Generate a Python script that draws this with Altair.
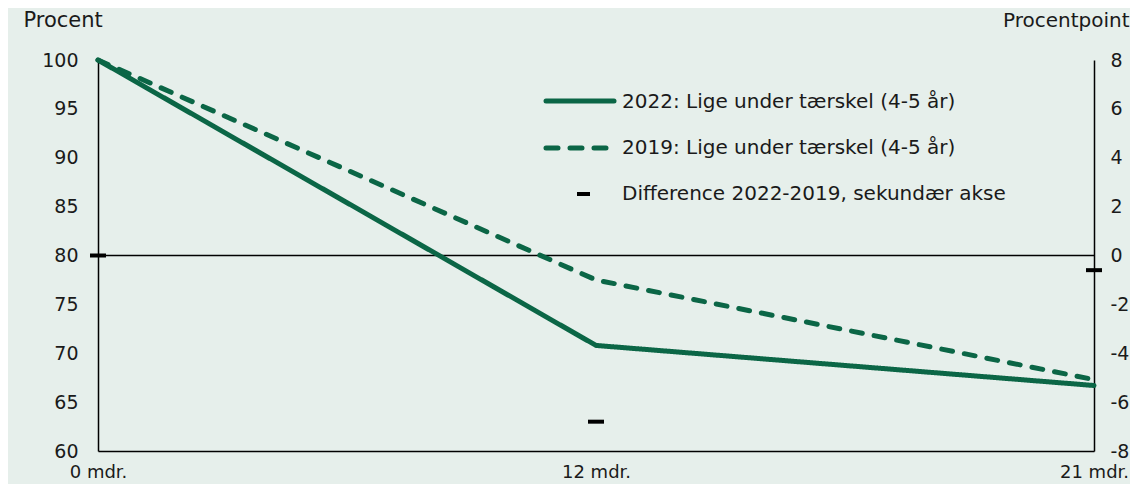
import altair as alt
import pandas as pd

months = ["0 mdr.", "12 mdr.", "21 mdr."]
y2022 = [100.0, 70.8, 66.7]
y2019 = [100.0, 77.5, 67.3]
diff = [0.0, -6.8, -0.6]
series_names = ["2022: Lige under tærskel (4-5 år)", "2019: Lige under tærskel (4-5 år)"]
diff_name = "Difference 2022-2019, sekundær akse"

GREEN = "#0B6646"
BG = "#E6EFEB"
FONT = "DejaVu Sans"
TXT = "#1a1a1a"

lines_df = pd.DataFrame({
    "m": months * 2,
    "v": y2022 + y2019,
    "s": [series_names[0]] * 3 + [series_names[1]] * 3,
})
diff_df = pd.DataFrame({"m": months, "d": diff})
ref_df = pd.DataFrame({"v": [80]})

xenc = alt.X("m:O", sort=months, scale=alt.Scale(type="point", padding=0),
             axis=alt.Axis(title=None, labelAngle=0, ticks=False, domainColor="black",
                           domainWidth=1.5, labelPadding=12, labelFontSize=18,
                           labelFont=FONT, labelColor=TXT))

yleft = alt.Y("v:Q", scale=alt.Scale(domain=[60, 100], nice=False, zero=False),
              axis=alt.Axis(title="Procent", values=list(range(60, 101, 5)), ticks=False,
                            grid=False, domainColor="black", domainWidth=1.5,
                            labelPadding=20, labelFontSize=19, labelFont=FONT,
                            labelColor=TXT,
                            titleAngle=0, titleAlign="left", titleBaseline="alphabetic",
                            titleX=-75, titleY=-34, titleFontSize=21, titleFont=FONT,
                            titleFontWeight="normal", titleColor=TXT))

lines = alt.Chart(lines_df).mark_line(strokeWidth=5, strokeCap="round", strokeJoin="round").encode(
    x=xenc,
    y=yleft,
    color=alt.value(GREEN),
    strokeDash=alt.StrokeDash("s:N", sort=series_names,
                              scale=alt.Scale(domain=series_names, range=[[1, 0], [11, 12]]),
                              legend=None),
)

rule = alt.Chart(ref_df).mark_rule(color="black", strokeWidth=1.5).encode(
    y=alt.Y("v:Q", scale=alt.Scale(domain=[60, 100], nice=False, zero=False))
)

# manual legend
leg_df = pd.DataFrame({"k": [0]})
leg1 = alt.Chart(leg_df).mark_rule(color=GREEN, strokeWidth=5, strokeCap="round").encode(
    x=alt.value(448), x2=alt.value(516), y=alt.value(41))
leg2 = alt.Chart(leg_df).mark_rule(color=GREEN, strokeWidth=5, strokeCap="round",
                                   strokeDash=[12, 12]).encode(
    x=alt.value(448), x2=alt.value(512), y=alt.value(88))
leg3 = alt.Chart(leg_df).mark_rule(color="black", strokeWidth=4).encode(
    x=alt.value(479), x2=alt.value(492), y=alt.value(134))
t1 = alt.Chart(leg_df).mark_text(text=series_names[0], align="left", baseline="middle",
                                 fontSize=20, font=FONT, color=TXT).encode(
    x=alt.value(524), y=alt.value(42))
t2 = alt.Chart(leg_df).mark_text(text=series_names[1], align="left", baseline="middle",
                                 fontSize=20, font=FONT, color=TXT).encode(
    x=alt.value(524), y=alt.value(88))
t3 = alt.Chart(leg_df).mark_text(text=diff_name, align="left", baseline="middle",
                                 fontSize=20, font=FONT, color=TXT).encode(
    x=alt.value(524), y=alt.value(134))

left = alt.layer(rule, lines, leg1, leg2, leg3, t1, t2, t3)

ticks = alt.Chart(diff_df).mark_tick(color="black", size=16, thickness=4, opacity=1).encode(
    x=alt.X("m:O", sort=months, scale=alt.Scale(type="point", padding=0)),
    y=alt.Y("d:Q", scale=alt.Scale(domain=[-8, 8], nice=False, zero=False),
            axis=alt.Axis(orient="right", title="Procentpoint", values=list(range(-8, 9, 2)),
                          labelExpr="'' + datum.value",
                          ticks=False, grid=False, domainColor="black", domainWidth=1.5,
                          labelPadding=16, labelFontSize=19, labelFont=FONT,
                          labelColor=TXT, labelAlign="left",
                          titleAngle=0, titleAlign="right", titleBaseline="alphabetic",
                          titleX=35, titleY=-34, titleFontSize=20, titleFont=FONT,
                          titleFontWeight="normal", titleColor=TXT)),
)

chart = alt.layer(left, ticks).resolve_scale(y="independent").properties(
    width=996, height=391,
    background=BG,
    autosize=alt.AutoSizeParams(type="none"),
    padding={"left": 90, "top": 52, "right": 36, "bottom": 33},
).configure_view(stroke=None)

chart.save("out.html", embed_options={"renderer": "svg", "actions": False})
